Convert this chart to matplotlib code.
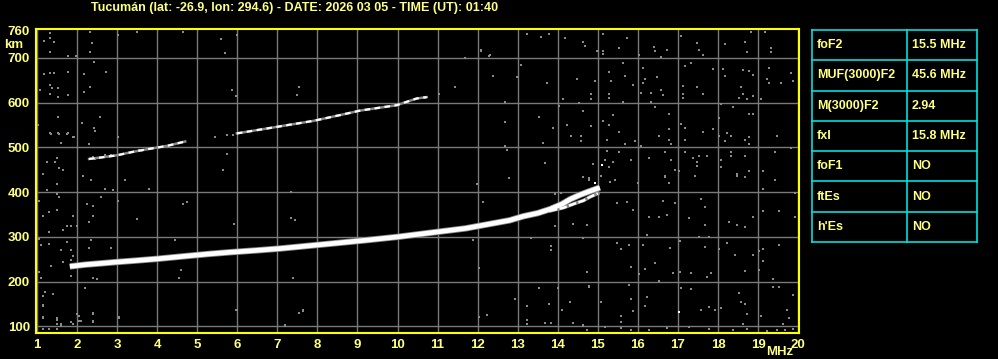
import matplotlib
matplotlib.use("Agg")
import matplotlib.pyplot as plt
import numpy as np

FONT = ["Liberation Sans", "DejaVu Sans"]
YEL = "#ffff80"
FRAME = "#ffff00"
GRID = "#7a7a7a"
NOISE = "#8a8a8a"
CYAN = "#00e0e0"

title = "Tucumán (lat: -26.9, lon: 294.6) - DATE: 2026 03 05 - TIME (UT): 01:40"

freq_ticks = list(range(1, 21))
height_ticks = [100, 200, 300, 400, 500, 600, 700, 760]
height_grid = [100, 200, 300, 400, 500, 600, 700]

# F2 trace, ordinary mode (frequency MHz, virtual height km)
fo_freq = [1.82, 2.2, 2.61, 3.0, 3.45, 4.0, 4.7, 5.3, 5.86, 6.5, 7.07, 8.0, 9.15,
           10.0, 10.98, 11.7, 12.31, 12.8, 13.14, 13.5, 13.81, 14.1, 14.31, 14.56,
           14.8, 15.05]
fo_height = [234, 238, 241, 244, 247, 251, 257, 262, 266, 270, 274, 282, 292,
             300, 311, 319, 329, 337, 346, 353, 362, 373, 384, 394, 402, 410]

# extraordinary branch near the critical frequency
fx_freq = [13.8, 14.14, 14.47, 14.64, 14.8, 15.0]
fx_height = [358, 365, 376, 381, 389, 397]

# second hop echo (two segments)
hop2a_freq = [2.3, 2.57, 2.99, 3.4, 3.9, 4.24, 4.7]
hop2a_height = [474, 477, 482, 490, 498, 503, 513]
hop2b_freq = [5.99, 6.74, 7.9, 8.57, 9.07, 9.98, 10.48, 10.73]
hop2b_height = [531, 542, 559, 572, 582, 594, 609, 612]

# scattered noise dots
noise_freq = [
    15.13, 15.73, 14.63, 14.68, 14.98, 15.13, 15.13, 15.53, 16.03, 16.4, 16.42, 16.58,
    16.73, 17.08, 17.48, 17.53, 17.63, 18.18, 18.68, 18.73, 18.83, 19.18, 19.33, 19.33,
    15.63, 15.28, 15.33, 15.68, 15.88, 16.13, 16.18, 16.13, 16.08, 16.33, 16.58, 16.63,
    16.47, 16.33, 15.63, 15.28, 15.28, 14.93, 14.83, 14.83, 17.18, 17.33, 17.13, 17.13,
    17.13, 17.48, 17.63, 17.88, 18.13, 18.18, 18.63, 18.77, 18.88, 18.58, 18.63, 18.53,
    18.73, 18.88, 19.08, 19.28, 19.23, 19.28, 19.58, 19.83, 19.88, 14.63, 15.13, 15.38,
    15.28, 14.83, 15.53, 14.58, 15.23, 15.68, 15.93, 16.43, 16.78, 16.53, 16.78, 16.78,
    16.83, 17.08, 17.18, 17.18, 17.63, 17.88, 18.08, 18.03, 18.38, 18.03, 18.23, 18.33,
    18.18, 18.78, 18.88, 18.68, 18.78, 18.78, 19.48, 16.08, 15.23, 15.53, 15.83, 15.38,
    15.18, 15.08, 15.28, 14.88, 16.28, 16.68, 16.83, 16.93, 17.03, 16.68, 17.18, 17.38,
    17.53, 17.73, 17.48, 17.48, 17.43, 18.08, 18.08, 18.33, 18.33, 18.48, 18.68, 18.78,
    19.13, 19.43, 19.83,
    14.63, 14.78, 15.08, 15.3, 15.43, 16.0, 16.68, 16.78, 17.43, 18.48, 18.68, 19.43,
    19.13, 19.93, 15.48, 15.73, 15.88, 16.63, 16.93, 17.58, 17.68, 17.28, 16.28, 16.53,
    16.73, 14.73, 18.28, 18.48, 18.68, 18.88, 19.13, 19.53, 19.93, 17.68, 17.53, 17.78,
    16.23, 15.48, 15.78, 16.13, 15.58, 16.8, 17.05, 17.68, 18.03, 18.23, 18.43, 18.88,
    19.03, 19.13, 19.13, 19.53, 14.73, 15.83, 16.03, 16.18, 16.43, 16.53, 16.88, 17.05,
    17.33, 17.83, 17.73, 18.68, 19.03, 19.38, 14.78, 15.78, 17.08, 17.33, 18.53, 19.38,
    19.53, 19.88, 15.08, 15.83, 16.23, 16.18, 15.88, 15.58, 15.58, 17.58, 17.78, 17.93,
    18.08, 18.58, 18.68, 18.73, 18.63, 19.08, 19.63, 19.73, 19.78, 14.63, 14.73, 15.18,
    15.58, 15.83, 16.28, 16.73, 17.28, 17.78, 18.38, 18.73, 19.23, 19.48, 19.68, 19.88,
    1.34, 1.54, 1.74, 1.89, 1.59, 2.29, 2.44, 3.03, 1.24, 1.44, 1.49, 1.54, 1.64, 1.14,
    2.14, 2.34, 2.41, 2.44, 2.69, 2.84, 3.0, 3.41, 3.54, 3.19, 2.69, 2.91, 3.79, 1.49,
    1.24, 1.49, 1.54, 1.04, 2.59, 2.24, 2.39, 3.03, 1.29, 1.49, 1.14, 1.89, 1.99, 1.74,
    1.64, 1.84, 1.29, 2.29, 2.39, 3.49, 1.04, 1.09, 1.29, 1.59, 1.74, 1.84, 1.89, 2.29,
    2.34, 2.84, 1.64, 1.84, 1.34, 1.04, 1.84, 2.49, 1.09, 2.39, 4.54, 4.59, 4.74, 4.64,
    4.44, 5.64, 5.74, 5.44, 5.74, 5.89, 2.19, 1.14, 1.39, 1.19, 1.14, 1.14, 1.49, 1.49,
    1.59, 1.84, 1.99, 2.04, 2.39, 2.39, 3.04,
    13.23, 13.58, 13.78, 14.18, 14.63, 14.68, 12.08, 12.28, 11.68, 13.08, 12.38, 12.98,
    11.43, 7.53, 7.48, 5.88, 5.98, 13.73, 14.48, 14.13, 14.03, 14.53, 14.63, 12.68,
    11.03, 13.53, 13.88, 14.23, 14.33, 14.58, 14.58, 12.68, 12.68, 12.73, 13.63, 13.68,
    12.78, 11.98, 12.13, 13.93, 14.08, 14.38, 13.93, 14.63, 11.88, 13.33, 13.83, 13.83,
    7.33, 7.33, 7.43, 5.93, 12.03, 7.39, 13.53, 14.01, 14.31, 14.11, 13.78, 12.93,
    13.23, 13.23, 13.23, 13.68, 13.83, 14.38, 14.63, 14.73, 14.78, 12.23, 12.03, 7.53,
    7.63, 5.98, 7.18, 14.78, 14.73,
    1.33, 1.18, 1.33, 1.43, 1.33, 2.33, 2.38, 2.33, 1.78, 1.98, 2.43, 2.18, 2.73, 1.78,
    1.18, 1.33, 1.43, 1.08, 1.38, 1.53, 1.33, 1.33, 1.53, 1.78, 2.33, 2.18, 2.43, 1.53,
    1.03, 1.33, 1.53, 1.78, 1.93, 2.13, 2.58,
    3.02, 3.5, 4.65, 5.6, 5.7, 6.0, 12.09, 12.3,
    1.15, 1.15, 1.5, 1.5, 1.6, 2.05, 2.1, 2.4, 2.4, 1.9, 3.05, 6.0, 7.55, 7.65, 7.2,
    1.15, 1.3, 1.5,
]
noise_height = [
    753, 744, 735, 726, 714, 716, 708, 722, 705, 723, 714, 701,
    717, 748, 732, 717, 705, 731, 735, 713, 757, 757, 722, 713,
    689, 669, 649, 660, 638, 677, 652, 643, 622, 622, 629, 616,
    656, 602, 602, 620, 611, 647, 620, 608, 681, 689, 637, 620,
    611, 634, 620, 674, 674, 659, 672, 671, 662, 634, 620, 611,
    608, 614, 608, 678, 652, 643, 643, 665, 647, 580, 558, 571,
    549, 547, 535, 525, 517, 508, 513, 589, 575, 526, 540, 517,
    508, 552, 544, 517, 535, 540, 596, 566, 589, 526, 531, 526,
    513, 575, 574, 517, 522, 508, 526, 502, 492, 490, 472, 468,
    471, 435, 455, 463, 477, 490, 472, 450, 446, 437, 489, 477,
    481, 481, 468, 459, 437, 471, 455, 490, 481, 440, 481, 446,
    446, 490, 499,
    433, 427, 437, 422, 427, 421, 433, 421, 437, 437, 433, 428,
    407, 397, 375, 379, 361, 381, 375, 385, 367, 342, 345, 345,
    349, 327, 334, 327, 321, 345, 358, 358, 345, 327, 300, 300,
    305, 287, 281, 281, 273, 276, 290, 278, 273, 287, 260, 260,
    269, 273, 246, 281, 222, 233, 218, 228, 242, 202, 220, 222,
    220, 220, 211, 224, 227, 206, 188, 193, 187, 184, 175, 188,
    188, 170, 155, 161, 165, 146, 134, 124, 111, 137, 143, 137,
    142, 155, 151, 128, 106, 124, 106, 136, 120, 102, 93, 99,
    96, 92, 93, 97, 99, 95, 93, 95, 90, 92, 93, 95,
    530, 530, 530, 522, 510, 507, 537, 524, 467, 467, 476, 454, 450, 441,
    436, 427, 479, 473, 482, 482, 482, 490, 493, 426, 408, 404, 408, 417,
    404, 395, 390, 381, 390, 373, 368, 381, 355, 359, 346, 347, 325, 324,
    315, 324, 310, 333, 346, 341, 295, 282, 284, 270, 288, 270, 258, 275,
    292, 275, 244, 248, 235, 221, 212, 205, 208, 208, 208, 226, 377, 373,
    292, 450, 484, 522, 527, 527, 186, 168, 172, 177, 149, 121, 118, 106,
    101, 110, 127, 112, 110, 129, 122,
    753, 747, 753, 744, 735, 726, 717, 704, 699, 683, 659, 656,
    634, 634, 616, 629, 614, 643, 652, 607, 593, 598, 580, 602,
    619, 567, 544, 549, 526, 526, 513, 556, 503, 494, 509, 464,
    431, 418, 377, 395, 399, 328, 324, 297, 293, 297, 279, 270,
    400, 342, 337, 328, 230, 208, 185, 185, 155, 137, 151, 161,
    145, 115, 106, 108, 108, 108, 103, 222, 190, 126, 121, 131,
    137, 137, 103, 431, 404,
    756, 738, 744, 735, 713, 758, 732, 713, 704, 704, 690, 663, 669, 669,
    663, 666, 666, 628, 632, 632, 638, 619, 613, 617, 634, 623, 543, 568,
    549, 532, 532, 532, 523, 555, 568,
    751, 758, 758, 742, 710, 750, 715, 705,
    146, 119, 114, 106, 106, 123, 113, 127, 112, 106, 119, 137, 130, 134, 101,
    95, 95, 95,
]

white_freq = [17.03, 14.93, 15.1]
white_height = [133, 420, 460]

fig = plt.figure(figsize=(9.98, 3.59), dpi=100, facecolor="black")
ax = fig.add_axes([35.5 / 998, 1 - 333.3 / 359, 763 / 998, 304 / 359])
ax.set_facecolor("black")
ax.set_xlim(0.963, 20.01)
ax.set_ylim(84.8, 763.4)

for f in freq_ticks:
    ax.axvline(f, color=GRID, lw=1.0, zorder=1)
for h in height_grid:
    ax.axhline(h, color=GRID, lw=1.0, zorder=1)

ax.plot(noise_freq, noise_height, ls="none", marker="s", ms=1.9, mew=0,
        color=NOISE, zorder=2)
ax.plot(white_freq, white_height, ls="none", marker="s", ms=1.9, mew=0,
        color="white", zorder=2)

# second hop
for fr, hh in [(hop2a_freq, hop2a_height), (hop2b_freq, hop2b_height)]:
    ax.plot(fr, hh, color=NOISE, lw=1.8, zorder=3)
    ax.plot(fr, hh, color="white", lw=1.6, dashes=(2.5, 2.0), zorder=4)

# first hop F2 trace
ax.plot(fo_freq, fo_height, color=NOISE, lw=4.6, zorder=3,
        solid_capstyle="butt")
ax.plot(fo_freq, fo_height, color="white", lw=3.4, zorder=4,
        solid_capstyle="butt")
ax.plot(fx_freq, fx_height, color=NOISE, lw=2.6, zorder=3)
ax.plot(fx_freq, fx_height, color="white", lw=1.8, dashes=(3, 1), zorder=4)

for sp in ax.spines.values():
    sp.set_color(FRAME)
    sp.set_linewidth(1.5)
    sp.set_zorder(6)

ax.set_xticks(freq_ticks)
ax.set_xticklabels([str(f) for f in freq_ticks])
ax.set_yticks(height_ticks)
ax.set_yticklabels([str(h) for h in height_ticks])
ax.tick_params(length=0, colors=YEL, pad=4)
for lab in ax.get_xticklabels() + ax.get_yticklabels():
    lab.set_family(FONT)
    lab.set_fontweight("bold")
    lab.set_fontsize(9.5)
    lab.set_color(YEL)

fig.text(780 / 998, 1 - 352 / 359, "MHz", color=YEL, family=FONT,
         fontweight="bold", fontsize=9.5, ha="center", va="center")
fig.text(14 / 998, 1 - 45 / 359, "km", color=YEL, family=FONT,
         fontweight="bold", fontsize=9.5, ha="center", va="center")
fig.text(294.5 / 998, 1 - 7.5 / 359, title, color=YEL, family=FONT,
         fontweight="bold", fontsize=9, ha="center", va="center")

# parameters table
param_names = ["foF2", "MUF(3000)F2", "M(3000)F2", "fxI", "foF1", "ftEs", "h'Es"]
param_values = ["15.5 MHz", "45.6 MHz", "2.94", "15.8 MHz", "NO", "NO", "NO"]

tx = fig.add_axes([812 / 998, 1 - 242 / 359, 165 / 998, 212 / 359])
tx.set_xlim(0, 165)
tx.set_ylim(len(param_names), 0)
tx.axis("off")
for i in range(len(param_names) + 1):
    tx.plot([0, 165], [i, i], color=CYAN, lw=1.2, clip_on=False)
for x in [0, 95, 165]:
    tx.plot([x, x], [0, len(param_names)], color=CYAN, lw=1.2, clip_on=False)
for i, (n, v) in enumerate(zip(param_names, param_values)):
    tx.text(5, i + 0.5, n, color=YEL, family=FONT, fontweight="bold",
            fontsize=9, va="center", ha="left")
    tx.text(100, i + 0.5, v, color=YEL, family=FONT, fontweight="bold",
            fontsize=9, va="center", ha="left")

fig.savefig("out.png", dpi=100, facecolor="black")
